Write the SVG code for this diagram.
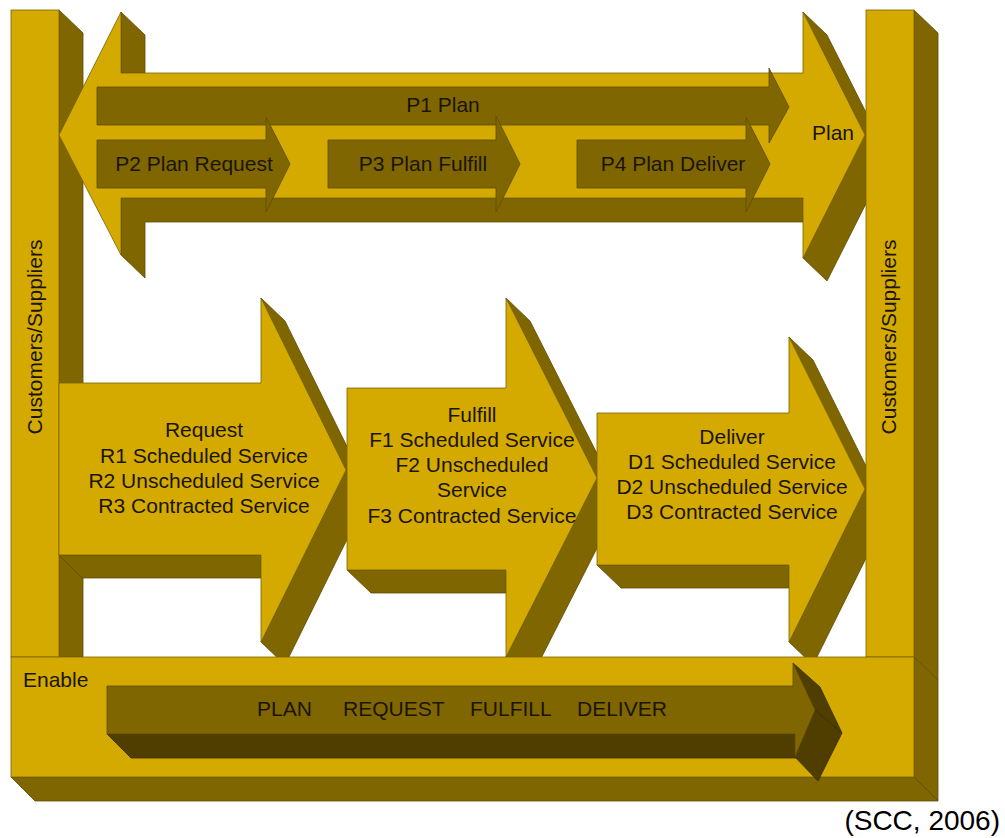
<svg xmlns="http://www.w3.org/2000/svg" width="1005" height="838" viewBox="0 0 1005 838">
<style>
.g{fill:#D4AA00;stroke:#7a6300;stroke-width:0.8}
.o{fill:#806600;stroke:#5e4b00;stroke-width:0.8}
.d{fill:#4F3E00;stroke:#3a2e00;stroke-width:0.8}
text{font-family:"Liberation Sans",Arial,sans-serif;font-size:21px;fill:#1a1505}
.m{text-anchor:middle}
</style>
<rect width="1005" height="838" fill="#ffffff"/>
<g id="left-pillar">
<polygon class="o" points="59,10 83,33 83,657 59,657"/>
<rect class="g" x="11" y="10" width="48" height="647"/>
<text transform="translate(42,337) rotate(-90)" class="m">Customers/Suppliers</text>
</g>
<g id="plan">
<polygon class="o" points="121,12 145,35 145,73 121,73"/>
<polygon class="o" points="121,198 803,198 803,222 145,222 145,278 121,255"/>
<polygon class="o" points="803,12 827,35 889,158 865,135"/>
<polygon class="o" points="865,135 889,158 827,281 803,258"/>
<polygon class="g" points="59,135 121,12 121,73 803,73 803,12 865,135 803,258 803,198 121,198 121,255"/>
<text x="833" y="140" class="m">Plan</text>
</g>
<g id="p1">
<polygon class="o" points="97,87 769,87 769,68 789,107 769,143 769,125 97,125"/>
<text x="443" y="112" class="m">P1 Plan</text>
</g>
<g id="p2">
<polygon class="o" points="97,140 266,140 266,117 290,164 266,212 266,188 97,188"/>
<text x="194" y="171" class="m">P2 Plan Request</text>
</g>
<g id="p3">
<polygon class="o" points="328,140 496,140 496,116 520,164 496,212 496,188 328,188"/>
<text x="423" y="171" class="m">P3 Plan Fulfill</text>
</g>
<g id="p4">
<polygon class="o" points="577,140 746,140 746,117 770,164 746,212 746,188 577,188"/>
<text x="673" y="171" class="m">P4 Plan Deliver</text>
</g>
<g id="request">
<polygon class="o" points="59,555 261,555 261,578 82,578"/>
<polygon class="o" points="261,298 285,321 370,493 346,470"/>
<polygon class="o" points="346,470 370,493 285,665 261,642"/>
<polygon class="g" points="59,383 261,383 261,298 346,470 261,642 261,555 59,555"/>
<text x="204" y="437" class="m">Request</text>
<text x="204" y="463" class="m">R1 Scheduled Service</text>
<text x="204" y="488" class="m">R2 Unscheduled Service</text>
<text x="204" y="513" class="m">R3 Contracted Service</text>
</g>
<g id="fulfill">
<polygon class="o" points="347,570 506,570 506,593 371,593"/>
<polygon class="o" points="506,298 530,321 621,501 597,478"/>
<polygon class="o" points="597,478 621,501 530,680 506,657"/>
<polygon class="g" points="347,388 506,388 506,298 597,478 506,657 506,570 347,570"/>
<text x="472" y="422" class="m">Fulfill</text>
<text x="472" y="447" class="m">F1 Scheduled Service</text>
<text x="472" y="472" class="m">F2 Unscheduled</text>
<text x="472" y="497" class="m">Service</text>
<text x="472" y="523" class="m">F3 Contracted Service</text>
</g>
<g id="deliver">
<polygon class="o" points="597,565 789,565 789,588 621,588"/>
<polygon class="o" points="789,337 813,360 889,512 865,489"/>
<polygon class="o" points="865,489 889,512 813,665 789,642"/>
<polygon class="g" points="597,413 789,413 789,337 865,489 789,642 789,565 597,565"/>
<text x="732" y="444" class="m">Deliver</text>
<text x="732" y="469" class="m">D1 Scheduled Service</text>
<text x="732" y="494" class="m">D2 Unscheduled Service</text>
<text x="732" y="519" class="m">D3 Contracted Service</text>
</g>
<g id="right-pillar">
<polygon class="o" points="914,10 938,33 938,680 914,657"/>
<rect class="g" x="866" y="10" width="48" height="647"/>
<text transform="translate(896,337) rotate(-90)" class="m">Customers/Suppliers</text>
</g>
<g id="enable">
<polygon class="o" points="11,777 914,777 938,801 35,801"/>
<polygon class="o" points="914,657 938,680 938,801 914,777"/>
<rect class="g" x="11" y="657" width="903" height="120"/>
<text x="23" y="687">Enable</text>
</g>
<g id="enable-arrow">
<polygon class="d" points="107,734 795,734 818,758 131,758"/>
<polygon class="d" points="793,663 820,687 842,733 815,710"/>
<polygon class="d" points="815,710 842,733 818,781 795,757"/>
<polygon class="o" points="107,686 793,686 793,663 815,710 795,757 795,734 107,734"/>
<text x="257" y="716">PLAN</text>
<text x="343" y="716">REQUEST</text>
<text x="470" y="716">FULFILL</text>
<text x="577" y="716">DELIVER</text>
</g>
<g id="connectors"></g>
<text x="1000" y="830" style="font-size:28px;text-anchor:end;fill:#000">(SCC, 2006)</text>
</svg>
